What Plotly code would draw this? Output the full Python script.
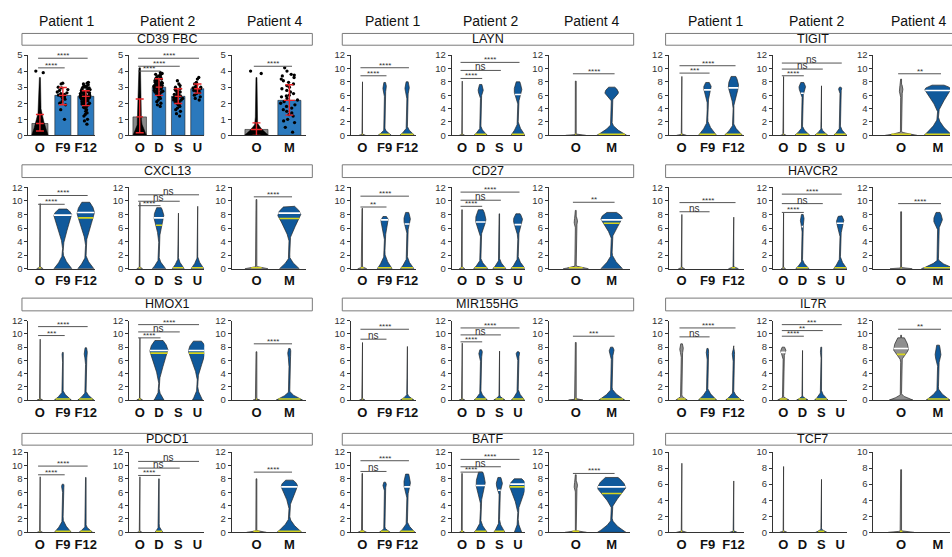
import numpy as np
import plotly.graph_objects as go

W, H = 952, 557
FONT = "Liberation Sans, Arial, Helvetica, sans-serif"
BLUE = "#10599b"
GRAY = "#8f8f8f"
YELLOW = "#d6d41e"
BAR_BLUE = "#2b79bd"
BAR_GRAY = "#8a8a8a"
THIN = 0.012

PATIENTS = ["Patient 1", "Patient 2", "Patient 4"]
CATS = [["O", "F9", "F12"], ["O", "D", "S", "U"], ["O", "M"]]
GENES = [["CD39 FBC", "LAYN", "TIGIT"],
         ["CXCL13", "CD27", "HAVCR2"],
         ["HMOX1", "MIR155HG", "IL7R"],
         ["PDCD1", "BATF", "TCF7"]]

# ---------------- CD39 FBC (bar chart) ----------------
CD39_MEAN = [[0.74, 2.49, 2.43], [1.15, 3.0, 2.43, 2.9], [0.37, 2.18]]
CD39_LO = [[0.27, 1.91, 1.85], [0.16, 2.49, 1.98, 2.63], [0.0, 1.26]]
CD39_HI = [[1.3, 2.98, 2.78], [2.26, 3.52, 2.9, 3.2], [0.78, 3.15]]
CD39_DOTS_P1 = [
    [4.0, 3.9],
    [3.25, 3.2, 3.0, 2.95, 2.85, 2.8, 2.7, 2.65, 2.6, 2.55, 2.5, 2.45, 2.4, 2.3, 2.25, 2.1, 2.0, 1.9, 1.6, 1.0],
    [3.3, 3.25, 3.2, 3.15, 3.1, 3.05, 3.0, 3.0, 2.95, 2.9, 2.9, 2.85, 2.8, 2.8, 2.75, 2.75, 2.7, 2.7, 2.65,
     2.65, 2.6, 2.6, 2.6, 2.55, 2.55, 2.5, 2.5, 2.5, 2.45, 2.45, 2.45, 2.4, 2.4, 2.4, 2.35, 2.35, 2.35, 2.3,
     2.3, 2.3, 2.25, 2.25, 2.2, 2.2, 2.15, 2.15, 2.1, 2.1, 2.05, 2.0, 2.0, 1.95, 1.9, 1.85, 1.8, 1.75, 1.7,
     1.6, 1.5, 1.4, 1.3, 1.2, 1.0, 0.9, 0.7],
]
CD39_DOTS_P2 = [
    [],
    [3.9, 3.85, 3.8, 3.75, 3.7, 3.65, 3.6, 3.55, 3.5, 3.5, 3.45, 3.4, 3.4, 3.35, 3.3, 3.3, 3.25, 3.25, 3.2,
     3.2, 3.15, 3.15, 3.1, 3.1, 3.1, 3.05, 3.05, 3.0, 3.0, 3.0, 2.95, 2.95, 2.9, 2.9, 2.9, 2.85, 2.85, 2.8,
     2.8, 2.75, 2.75, 2.7, 2.7, 2.65, 2.6, 2.55, 2.5, 2.45, 2.4, 2.3, 2.2, 2.1, 2.0, 1.9, 1.8],
    [3.4, 3.2, 3.1, 3.0, 2.9, 2.85, 2.8, 2.75, 2.7, 2.65, 2.6, 2.55, 2.5, 2.5, 2.45, 2.4, 2.4, 2.35, 2.3,
     2.3, 2.25, 2.2, 2.2, 2.15, 2.1, 2.05, 2.0, 1.95, 1.9, 1.8, 1.7, 1.6, 1.5, 1.35, 1.2],
    [3.6, 3.5, 3.3, 3.2, 3.1, 3.0, 3.0, 2.95, 2.9, 2.9, 2.85, 2.8, 2.8, 2.75, 2.7, 2.65, 2.6, 2.5, 2.4, 2.3, 2.2],
]
CD39_DOTS_P4 = [
    [4.0, 3.85],
    [4.2, 4.0, 3.8, 3.75, 3.7, 3.6, 3.5, 3.4, 3.3, 3.2, 3.1, 3.0, 2.9, 2.8, 2.7, 2.6, 2.5, 2.45, 2.4, 2.3,
     2.2, 2.1, 2.0, 1.9, 1.8, 1.7, 1.6, 1.5, 1.4, 1.3, 1.2, 1.0, 0.9, 0.8, 0.5, 0.2],
]
# dense black dot clouds of the O groups: (bw, bh, top, lo, c, hi, bwid)
CD39_O_CLOUD = [(0.36, 2.4, 3.6, 0.0, 0.6, 3.6, 0.05),
                (0.35, 1.5, 4.2, 0.0, 0.6, 4.2, 0.09),
                (0.37, 1.0, 3.6, 0.0, 0.5, 3.6, 0.035)]

# ---------------- violin summaries ----------------
# per violin: (base half-width, base height, max, bulb low, bulb widest, bulb high, bulb half-width, white line, yellow line)
N = None
LAYN = [
    [(0.15, 0.2, 8.0, N, N, N, 0, N, 0.15), (0.30, 1.1, 7.9, 5.8, 7.0, 7.9, 0.08, N, 0.15), (0.33, 1.5, 8.0, 5.5, 6.8, 8.0, 0.10, N, 0.15)],
    [(0.15, 0.2, 8.1, N, N, N, 0, N, 0.15), (0.36, 1.5, 7.6, 5.5, 6.5, 7.6, 0.14, N, 0.15), None, (0.38, 2.3, 8.0, 4.5, 6.5, 8.0, 0.21, 6.1, 0.15)],
    [(0.28, 0.15, 8.1, N, N, N, 0, N, 0.15), (0.42, 2.0, 7.2, 5.0, 6.3, 7.2, 0.19, N, 0.15)],
]
TIGIT = [
    [(0.19, 0.2, 8.8, N, N, N, 0, N, 0.15), (0.35, 2.5, 7.9, 4.5, 7.0, 7.9, 0.15, 6.8, 0.15), (0.35, 2.0, 8.8, 4.0, 7.2, 8.8, 0.2, 7.1, 0.15)],
    [(0.15, 0.2, 8.8, N, N, N, 0, N, 0.15), (0.4, 1.5, 7.9, 5.5, 7.0, 7.9, 0.18, 6.3, 0.15), (0.35, 1.2, 7.4, N, N, N, 0, N, 0.15), (0.35, 1.5, 7.2, 6.3, 6.9, 7.2, 0.09, N, 0.15)],
    [(0.43, 0.6, 8.4, 5.6, 6.6, 7.6, 0.05, N, 0.15), (0.38, 3.0, 7.5, 3.3, 6.8, 7.5, 0.36, 6.7, 0.15)],
]
CXCL13 = [
    [(0.14, 0.3, 9.6, N, N, N, 0, N, 0.15), (0.39, 2.5, 8.8, 3.0, 7.8, 8.8, 0.39, 7.9, N), (0.35, 2.2, 9.8, 3.5, 8.0, 9.8, 0.38, 8.3, 7.5)],
    [(0.15, 0.3, 9.8, N, N, N, 0, N, 0.15), (0.35, 1.8, 9.0, 4.0, 7.5, 9.0, 0.26, 7.5, 6.4), (0.31, 1.8, 8.2, N, N, N, 0, N, 0.15), (0.33, 2.0, 9.2, N, N, N, 0, N, 0.15)],
    [(0.35, 0.4, 10.2, 6.3, 6.7, 7.1, 0.03, N, 0.15), (0.30, 2.0, 9.2, 4.0, 7.8, 9.2, 0.35, 8.2, 7.4)],
]
CD27 = [
    [(0.2, 0.3, 8.9, 6.8, 7.2, 7.6, 0.03, N, 0.15), (0.33, 2.5, 7.7, 4.0, 7.0, 7.7, 0.17, 7.2, 0.15), (0.3, 2.0, 8.3, 5.0, 7.0, 8.3, 0.15, 6.6, 0.15)],
    [(0.15, 0.3, 8.7, 6.8, 7.3, 7.8, 0.03, N, 0.15), (0.38, 1.7, 8.7, 4.5, 7.0, 8.7, 0.28, 6.9, 0.15), (0.35, 1.7, 8.1, 6.5, 7.5, 8.0, 0.05, N, 0.15), (0.38, 2.0, 8.1, 4.5, 7.0, 8.1, 0.25, 6.5, 0.15)],
    [(0.35, 0.5, 8.6, 6.0, 6.8, 7.6, 0.05, N, 0.15), (0.3, 2.5, 8.3, 4.3, 7.3, 8.3, 0.3, 7.2, 6.7)],
]
HAVCR2 = [
    [(0.12, 0.2, 8.0, N, N, N, 0, N, 0.15), None, (0.19, 0.35, 7.6, N, N, N, 0, N, 0.15)],
    [(0.12, 0.2, 8.2, N, N, N, 0, N, 0.15), (0.35, 1.5, 8.0, 5.5, 7.0, 8.0, 0.1, 6.2, 0.15), None, (0.35, 2.0, 7.8, 4.5, 6.8, 7.8, 0.2, 6.7, 0.15)],
    [(0.3, 0.15, 8.4, N, N, N, 0, N, 0.15), (0.45, 1.5, 8.3, 5.5, 7.0, 8.3, 0.12, N, 0.15)],
]
HMOX1 = [
    [(0.12, 0.2, 9.2, N, N, N, 0, N, 0.15), (0.37, 1.6, 7.2, 6.0, 7.0, 7.2, 0.04, N, 0.15), (0.35, 1.5, 7.9, 5.5, 6.8, 7.9, 0.07, N, 0.15)],
    [(0.15, 0.3, 9.4, N, N, N, 0, N, 0.15), (0.26, 1.8, 9.0, 2.5, 7.3, 9.0, 0.47, 7.5, 7.1), None, (0.26, 2.2, 8.9, 3.0, 7.3, 8.9, 0.47, 7.5, 7.1)],
    [(0.1, 0.15, 7.3, N, N, N, 0, N, 0.15), (0.4, 1.5, 7.8, 5.0, 7.0, 7.8, 0.05, N, 0.15)],
]
MIR155HG = [
    [(0.12, 0.2, 8.7, N, N, N, 0, N, 0.15), None, (0.3, 1.0, 8.1, N, N, N, 0, N, 0.15)],
    [(0.15, 0.2, 8.6, N, N, N, 0, N, 0.15), (0.35, 1.5, 7.6, 5.8, 7.0, 7.6, 0.1, N, 0.15), (0.3, 0.8, 7.4, N, N, N, 0, N, 0.15), (0.35, 1.8, 7.3, 6.0, 7.0, 7.3, 0.1, N, 0.15)],
    [(0.2, 0.2, 8.7, N, N, N, 0, N, 0.15), (0.36, 2.0, 8.0, 6.0, 7.3, 8.0, 0.07, N, 0.15)],
]
IL7R = [
    [(0.22, 0.8, 8.5, 6.5, 7.5, 8.5, 0.07, N, 0.15), (0.35, 2.0, 7.8, 6.0, 7.2, 7.8, 0.05, N, 0.15), (0.3, 1.5, 8.2, 6.0, 7.0, 7.5, 0.05, N, 0.15)],
    [(0.3, 0.6, 8.0, 6.2, 7.3, 8.0, 0.14, 7.2, 0.15), (0.3, 0.7, 7.5, N, N, N, 0, N, 0.15), (0.35, 1.6, 8.0, 6.5, 7.3, 8.0, 0.05, N, 0.15), None],
    [(0.32, 1.0, 9.8, 5.8, 7.5, 9.4, 0.2, 7.8, 6.9), (0.32, 2.0, 8.3, 5.0, 6.5, 8.3, 0.08, N, 0.15)],
]
PDCD1 = [
    [(0.12, 0.2, 8.3, N, N, N, 0, N, 0.15), (0.37, 2.2, 7.2, 6.0, 6.9, 7.2, 0.06, N, 0.15), (0.3, 1.2, 8.2, 6.5, 7.0, 7.3, 0.03, N, 0.15)],
    [(0.12, 0.2, 8.3, N, N, N, 0, N, 0.15), (0.2, 1.2, 8.0, 5.8, 6.5, 7.0, 0.05, N, 0.15), None, None],
    [(0.3, 0.3, 8.0, 5.0, 5.5, 6.0, 0.03, N, 0.15), (0.38, 2.5, 7.8, 3.5, 6.8, 7.8, 0.25, 6.8, 0.15)],
]
BATF = [
    [(0.2, 0.4, 8.8, 6.3, 7.1, 7.8, 0.04, N, 0.15), (0.25, 0.8, 7.5, 6.2, 7.0, 7.5, 0.08, N, 0.15), (0.35, 1.8, 8.7, 5.0, 7.0, 8.7, 0.15, 6.8, 0.15)],
    [(0.15, 0.3, 8.8, 6.5, 7.0, 7.5, 0.04, N, 0.15), (0.35, 2.0, 9.0, 4.0, 7.0, 9.0, 0.25, 7.0, 0.15), (0.3, 2.0, 8.2, 5.5, 7.0, 8.2, 0.17, 6.3, 0.15), (0.2, 2.0, 8.0, 3.0, 6.8, 8.0, 0.45, 7.2, 6.8)],
    [(0.3, 0.3, 8.6, 6.0, 6.8, 7.6, 0.05, N, 0.15), (0.4, 2.2, 8.2, 3.5, 6.5, 8.2, 0.39, 6.8, 5.8)],
]
TCF7 = [
    [(0.2, 0.2, 8.6, N, N, N, 0, N, 0.15), None, (0.15, 0.2, 6.4, N, N, N, 0, N, 0.15)],
    [(0.2, 0.2, 8.2, N, N, N, 0, N, 0.15), None, (0.3, 0.5, 6.6, N, N, N, 0, N, 0.15), None],
    [(0.35, 0.2, 7.8, 6.4, 6.6, 6.8, 0.02, N, 0.15), None],
]

# significance brackets: (patient index, compared category, y, label) -- all against "O"
BR_CD39 = [(0, 1, 4.2, "****"), (0, 2, 4.8, "****"), (1, 1, 4.0, "****"), (1, 2, 4.3, "****"), (1, 3, 4.8, "****"), (2, 1, 4.3, "****")]
BR_LAYN = [(0, 1, 8.9, "****"), (0, 2, 10.1, "****"), (1, 1, 8.5, "****"), (1, 2, 9.7, "ns"), (1, 3, 10.9, "****"), (2, 1, 9.2, "****")]
BR_TIGIT = [(0, 1, 9.3, "***"), (0, 2, 10.4, "****"), (1, 1, 8.9, "****"), (1, 2, 9.9, "ns"), (1, 3, 10.8, "ns"), (2, 1, 9.2, "**")]
BR_CXCL13 = [(0, 1, 9.5, "****"), (0, 2, 10.8, "****"), (1, 1, 9.3, "****"), (1, 2, 9.95, "ns"), (1, 3, 10.9, "ns"), (2, 1, 10.6, "****")]
BR_CD27 = [(0, 1, 9.1, "**"), (0, 2, 10.7, "****"), (1, 1, 9.2, "****"), (1, 2, 10.1, "ns"), (1, 3, 11.3, "****"), (2, 1, 9.8, "**")]
BR_HAVCR2 = [(0, 1, 8.4, "ns"), (0, 2, 9.75, "****"), (1, 1, 8.3, "****"), (1, 2, 9.6, "ns"), (1, 3, 11.0, "****"), (2, 1, 9.6, "****")]
BR_HMOX1 = [(0, 1, 9.75, "***"), (0, 2, 11.1, "****"), (1, 1, 9.4, "****"), (1, 2, 10.3, "ns"), (1, 3, 11.4, "****"), (2, 1, 8.5, "****")]
BR_MIR155HG = [(0, 1, 9.2, "ns"), (0, 2, 10.7, "****"), (1, 1, 8.8, "****"), (1, 2, 9.85, "ns"), (1, 3, 10.9, "****"), (2, 1, 9.65, "***")]
BR_IL7R = [(0, 1, 9.55, "ns"), (0, 2, 10.9, "****"), (1, 1, 9.65, "****"), (1, 2, 10.5, "**"), (1, 3, 11.4, "***"), (2, 1, 10.7, "**")]
BR_PDCD1 = [(0, 1, 8.6, "****"), (0, 2, 9.9, "****"), (1, 1, 8.5, "****"), (1, 2, 9.6, "ns"), (1, 3, 10.6, "ns"), (2, 1, 9.0, "****")]
BR_BATF = [(0, 1, 9.1, "ns"), (0, 2, 10.7, "****"), (1, 1, 9.0, "****"), (1, 2, 9.8, "ns"), (1, 3, 10.9, "****"), (2, 1, 8.8, "****")]
BR_TCF7 = []

VIOLINS = {"LAYN": LAYN, "TIGIT": TIGIT, "CXCL13": CXCL13, "CD27": CD27, "HAVCR2": HAVCR2,
           "HMOX1": HMOX1, "MIR155HG": MIR155HG, "IL7R": IL7R, "PDCD1": PDCD1, "BATF": BATF, "TCF7": TCF7}
BRACKETS = {"CD39 FBC": BR_CD39, "LAYN": BR_LAYN, "TIGIT": BR_TIGIT, "CXCL13": BR_CXCL13, "CD27": BR_CD27,
            "HAVCR2": BR_HAVCR2, "HMOX1": BR_HMOX1, "MIR155HG": BR_MIR155HG, "IL7R": BR_IL7R,
            "PDCD1": BR_PDCD1, "BATF": BR_BATF, "TCF7": BR_TCF7}

# ---------------- layout geometry (pixels) ----------------
GROUP_CAT_PX = [[(40, 23), (140, 19.3), (257, 33)],
                [(363, 22.5), (463, 18.7), (577, 36)],
                [(683, 26), (785, 19), (903, 37)]]
X_RANGES = [(-0.5, 2.4), (-0.55, 3.35), (-0.75, 1.5)]
ROW_Y_PX = [(50, 132), (185, 268), (321, 402), (455, 537)]
ROW_BOX_PX = [(28, 40), (162, 175), (298, 311), (436, 448)]
GROUP_BOX_PX = [(22, 313), (343, 635), (667, 962)]
HEADER_X_PX = [[67, 168, 275], [393, 492, 593], [717, 818, 920]]


def width_at(v, y):
    bw, bh, top, lo, c, hi, bwid = v[:7]
    w = THIN
    if bh and y < bh:
        w = max(w, bw * (1 - y / bh) ** 1.7)
    if lo is not None and lo <= y <= hi:
        if y <= c:
            t = (y - lo) / (c - lo) if c > lo else 1.0
            wb = bwid * t ** 1.3
        else:
            t = (y - c) / (hi - c) if hi > c else 0.0
            wb = bwid * (1 - 0.55 * t ** 2)
        w = max(w, wb)
    return w


def violin_outline(cx, v):
    top = v[2]
    extra = [q for q in (v[1], v[3], v[4], v[5]) if q is not None and 0 <= q <= top]
    ys = np.unique(np.concatenate([np.linspace(0, top, 200), np.array(extra, dtype=float)]))
    ws = np.array([width_at(v, y) for y in ys])
    xs = list(cx + ws) + list((cx - ws)[::-1]) + [cx + ws[0]]
    yy = list(ys) + list(ys[::-1]) + [ys[0]]
    return xs, yy


fig = go.Figure()
layout = {}
annotations = []
shapes = []

ax = 0
for r in range(4):
    for g in range(3):
        gene = GENES[r][g]
        bx0, bx1 = GROUP_BOX_PX[g]
        by0, by1 = ROW_BOX_PX[r]
        shapes.append(dict(type="rect", xref="paper", yref="paper", x0=bx0 / W, x1=bx1 / W,
                           y0=1 - by1 / H, y1=1 - by0 / H, line=dict(color="#7a7a7a", width=1),
                           fillcolor="white", layer="below"))
        annotations.append(dict(text=gene, xref="paper", yref="paper", x=(bx0 + bx1) / 2 / W,
                                y=1 - (by0 + by1) / 2 / H, showarrow=False, xanchor="center", yanchor="middle",
                                font=dict(family=FONT, size=12.5, color="#111")))
        for p in range(3):
            ax += 1
            xn = "x" if ax == 1 else f"x{ax}"
            yn = "y" if ax == 1 else f"y{ax}"
            o_px, s = GROUP_CAT_PX[g][p]
            r0, r1 = X_RANGES[p]
            x0 = o_px + r0 * s
            x1 = o_px + r1 * s
            if x1 > W:
                r1 = r0 + (W - x0) / s
                x1 = W
            top_px, zero_px = ROW_Y_PX[r]
            cats = CATS[p]
            if gene == "CD39 FBC":
                ymax, yt = 5, [0, 1, 2, 3, 4, 5]
            elif gene == "TCF7":
                ymax, yt = 10, [0, 2, 4, 6, 8, 10]
            else:
                ymax, yt = 12, [0, 2, 4, 6, 8, 10, 12]
            layout["xaxis" if ax == 1 else f"xaxis{ax}"] = dict(
                domain=[x0 / W, x1 / W], range=[r0, r1], anchor=yn, tickvals=list(range(len(cats))),
                ticktext=cats, showline=True, linecolor="#333", linewidth=1, ticks="", showgrid=False,
                zeroline=False, tickfont=dict(family=FONT, size=13, color="#111", weight="bold"), fixedrange=True)
            layout["yaxis" if ax == 1 else f"yaxis{ax}"] = dict(
                domain=[1 - zero_px / H, 1 - top_px / H], range=[0, ymax], anchor=xn, tickvals=yt,
                showline=True, linecolor="#333", linewidth=1, ticks="outside", ticklen=3, tickcolor="#333",
                showgrid=False, zeroline=False, tickfont=dict(family=FONT, size=9.5, color="#333"), fixedrange=True)

            if r == 0:
                annotations.append(dict(text=PATIENTS[p], xref="paper", yref="paper",
                                        x=HEADER_X_PX[g][p] / W, y=1 - 15 / H, showarrow=False,
                                        xanchor="center", yanchor="middle",
                                        font=dict(family=FONT, size=14, color="#111")))

            if gene == "CD39 FBC":
                means = CD39_MEAN[p]
                xs = list(range(len(cats)))
                fig.add_trace(go.Bar(x=xs, y=means, width=0.7, xaxis=xn, yaxis=yn,
                                     marker=dict(color=[BAR_GRAY] + [BAR_BLUE] * (len(cats) - 1),
                                                 line=dict(color="#222", width=0.6)),
                                     hoverinfo="skip", showlegend=False))
                cx_, cy_ = violin_outline(0, CD39_O_CLOUD[p])
                fig.add_trace(go.Scatter(x=cx_, y=cy_, fill="toself", fillcolor="black", mode="lines",
                                         line=dict(color="black", width=0.5), xaxis=xn, yaxis=yn,
                                         hoverinfo="skip", showlegend=False))
                dots = [CD39_DOTS_P1, CD39_DOTS_P2, CD39_DOTS_P4][p]
                for i, dv in enumerate(dots):
                    if not dv:
                        continue
                    fig.add_trace(go.Box(x=[i] * len(dv), y=dv, boxpoints="all", jitter=0.9, pointpos=0,
                                         width=0.62, fillcolor="rgba(0,0,0,0)",
                                         line=dict(color="rgba(0,0,0,0)", width=0),
                                         marker=dict(color="black", size=3.3), xaxis=xn, yaxis=yn,
                                         hoverinfo="skip", showlegend=False))
                lo = CD39_LO[p]
                hi = CD39_HI[p]
                fig.add_trace(go.Scatter(x=xs, y=means, mode="markers", marker=dict(size=1, color="rgba(0,0,0,0)"),
                                         error_y=dict(type="data", symmetric=False,
                                                      array=[h - m for h, m in zip(hi, means)],
                                                      arrayminus=[m - l for l, m in zip(lo, means)],
                                                      color="#e8262a", thickness=1.4, width=4),
                                         xaxis=xn, yaxis=yn, hoverinfo="skip", showlegend=False))
                mx, my = [], []
                for i, m in enumerate(means):
                    mx += [i - 0.17, i + 0.17, None]
                    my += [m, m, None]
                fig.add_trace(go.Scatter(x=mx, y=my, mode="lines", line=dict(color="#e8262a", width=1.4),
                                         xaxis=xn, yaxis=yn, hoverinfo="skip", showlegend=False))
            else:
                vdata = VIOLINS[gene][p]
                wx, wy, yx, yy_ = [], [], [], []
                for i, v in enumerate(vdata):
                    if v is None:
                        continue
                    vx, vy = violin_outline(i, v)
                    fig.add_trace(go.Scatter(x=vx, y=vy, fill="toself", fillcolor=GRAY if i == 0 else BLUE,
                                             mode="lines", line=dict(color="#262626", width=0.7),
                                             xaxis=xn, yaxis=yn, hoverinfo="skip", showlegend=False))
                    if v[7] is not None:
                        w = width_at(v, v[7])
                        wx += [i - w, i + w, None]
                        wy += [v[7], v[7], None]
                    if v[8] is not None:
                        w = width_at(v, v[8])
                        yx += [i - w, i + w, None]
                        yy_ += [v[8], v[8], None]
                if yx:
                    fig.add_trace(go.Scatter(x=yx, y=yy_, mode="lines", line=dict(color=YELLOW, width=1.6),
                                             xaxis=xn, yaxis=yn, hoverinfo="skip", showlegend=False))
                if wx:
                    fig.add_trace(go.Scatter(x=wx, y=wy, mode="lines", line=dict(color="white", width=1.6),
                                             xaxis=xn, yaxis=yn, hoverinfo="skip", showlegend=False))

            bxs, bys = [], []
            for (pp, ci, yv, lab) in BRACKETS[gene]:
                if pp != p:
                    continue
                bxs += [-0.08, ci + 0.08, None]
                bys += [yv, yv, None]
                annotations.append(dict(text=lab, x=ci / 2, y=yv, xref=xn, yref=yn, showarrow=False,
                                        xanchor="center", yanchor="bottom", borderpad=0,
                                        yshift=-3 if lab != "ns" else -3,
                                        font=dict(family=FONT, size=8 if lab != "ns" else 10, color="#333")))
            if bxs:
                fig.add_trace(go.Scatter(x=bxs, y=bys, mode="lines", line=dict(color="#555", width=1),
                                         xaxis=xn, yaxis=yn, hoverinfo="skip", showlegend=False))

fig.update_layout(**layout)
fig.update_layout(width=W, height=H, margin=dict(l=0, r=0, t=0, b=0), paper_bgcolor="white",
                  plot_bgcolor="white", showlegend=False, annotations=annotations, shapes=shapes,
                  barmode="overlay", boxmode="overlay", font=dict(family=FONT), hovermode=False)
fig.write_html("out.html", config={"displayModeBar": False, "staticPlot": True},
               post_script="document.body.style.margin='0';document.body.style.overflow='hidden';"
                           "document.documentElement.style.overflow='hidden';")
